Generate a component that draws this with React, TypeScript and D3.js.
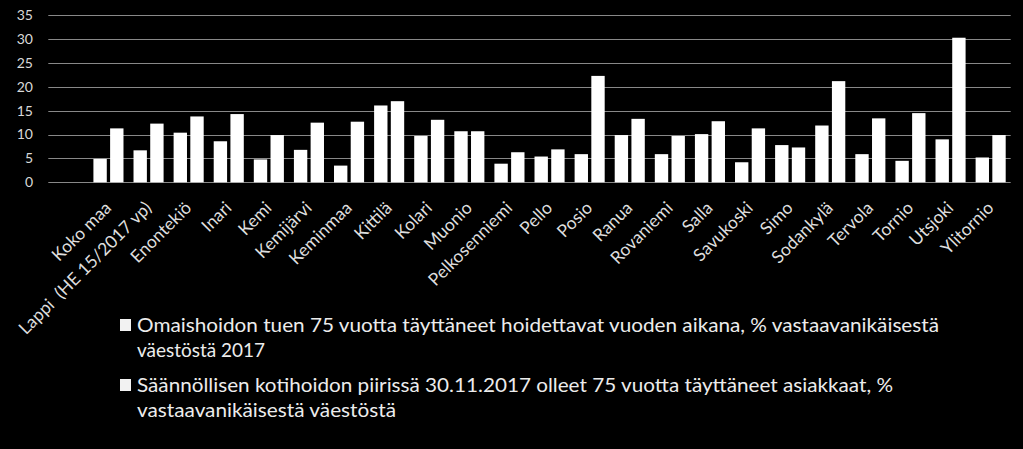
import React from "react";
import * as d3 from "d3";

const categories = [
  "",
  "Koko maa",
  "Lappi  (HE 15/2017 vp)",
  "Enontekiö",
  "Inari",
  "Kemi",
  "Kemijärvi",
  "Keminmaa",
  "Kittilä",
  "Kolari",
  "Muonio",
  "Pelkosenniemi",
  "Pello",
  "Posio",
  "Ranua",
  "Rovaniemi",
  "Salla",
  "Savukoski",
  "Simo",
  "Sodankylä",
  "Tervola",
  "Tornio",
  "Utsjoki",
  "Ylitornio",
];

const omaishoito: (number | null)[] = [
  null, 4.9, 6.7, 10.4, 8.6, 4.8, 6.8, 3.5, 16.1, 9.7, 10.7, 3.9, 5.4, 5.9, 9.9, 5.9, 10.1, 4.2, 7.8, 11.9, 5.9, 4.5, 9.0, 5.2,
];

const kotihoito: (number | null)[] = [
  null, 11.3, 12.3, 13.8, 14.3, 9.9, 12.5, 12.7, 17.0, 13.1, 10.7, 6.3, 6.9, 22.3, 13.3, 9.7, 12.8, 11.3, 7.3, 21.2, 13.4, 14.5, 30.3, 9.9,
];

const yTicks = [0, 5, 10, 15, 20, 25, 30, 35];

const legend1Lines = [
  "Omaishoidon tuen 75 vuotta täyttäneet hoidettavat vuoden aikana, % vastaavanikäisestä",
  "väestöstä 2017",
];
const legend2Lines = [
  "Säännöllisen kotihoidon piirissä 30.11.2017 olleet 75 vuotta täyttäneet asiakkaat, %",
  "vastaavanikäisestä väestöstä",
];

const W = 1023;
const H = 449;
const FONT = "Lato, 'Open Sans', sans-serif";

export default function App() {
  const idx = categories.map((_, i) => String(i));
  const x = d3.scaleBand().domain(idx).range([48.3, 1010.7]).paddingInner(0.25).paddingOuter(0.125);
  const sub = d3.scaleBand().domain(["a", "b"]).range([0, x.bandwidth()]).paddingInner(0.2);
  const y = d3.scaleLinear().domain([0, 35]).range([182.3, 15.3]);

  const legendWidths = [[802, 128], [756, 259]];
  const legendY = [[332, 357], [392, 417]];
  const legends = [legend1Lines, legend2Lines];

  return (
    <div style={{ position: "fixed", left: 0, top: 0 }}>
      <svg width={W} height={H} style={{ display: "block", background: "#000" }}>
        <rect x={0} y={0} width={W} height={H} fill="#000" />
        {yTicks.map((t) => (
          <g key={t}>
            <line x1={48.3} x2={1010.7} y1={Math.round(y(t)) + 0.5} y2={Math.round(y(t)) + 0.5} stroke="#888" strokeWidth={1} />
            <text x={33} y={y(t)} dy="0.35em" textAnchor="end" fill="#d9d9d9" fontSize={14} fontFamily={FONT}>
              {t}
            </text>
          </g>
        ))}
        {idx.map((k, i) => {
          const x0 = x(k)!;
          const a = omaishoito[i];
          const b = kotihoito[i];
          return (
            <g key={k}>
              {a != null && (
                <rect x={x0 + sub("a")!} y={y(a)} width={sub.bandwidth()} height={y(0) - y(a)} fill="#fff" />
              )}
              {b != null && (
                <rect x={x0 + sub("b")!} y={y(b)} width={sub.bandwidth()} height={y(0) - y(b)} fill="#fff" />
              )}
            </g>
          );
        })}
        {idx.map((k, i) => {
          const cx = x(k)! + x.bandwidth() / 2 + 4;
          const cy = 209;
          return (
            <text
              key={"l" + k}
              x={cx}
              y={cy}
              transform={`rotate(-45, ${cx}, ${cy})`}
              textAnchor="end"
              fill="#dedede"
              fontSize={17.5}
              fontFamily={FONT}
              style={{ whiteSpace: "pre" }}
            >
              {categories[i]}
            </text>
          );
        })}
        {legends.map((lines, li) => (
          <g key={"lg" + li}>
            <rect x={120} y={legendY[li][0] - 13} width={11} height={12} fill="#f2f2f2" />
            {lines.map((ln, j) => (
              <text
                key={j}
                x={137}
                y={legendY[li][j]}
                fill="#ececec"
                fontSize={20}
                fontFamily={FONT}
                textLength={legendWidths[li][j]}
                lengthAdjust="spacingAndGlyphs"
              >
                {ln}
              </text>
            ))}
          </g>
        ))}
      </svg>
    </div>
  );
}
